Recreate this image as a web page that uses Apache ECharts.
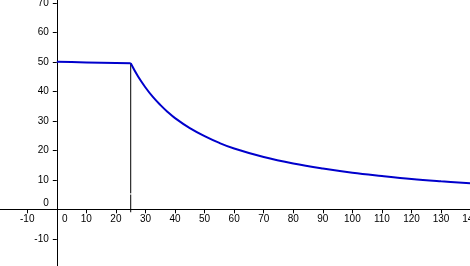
<!DOCTYPE html>
<html>
<head>
<meta charset="utf-8">
<script src="https://cdn.jsdelivr.net/npm/echarts@6/dist/echarts.min.js"></script>
<style>
html,body{margin:0;padding:0;background:#fff;}
#c{width:470px;height:266px;}
</style>
</head>
<body>
<div id="c"></div>
<script>
// Flat part of the curve
var flatX = [0, 5, 10, 15, 20, 25];
var flatY = [50, 49.9, 49.8, 49.7, 49.6, 49.5];
// Decaying part of the curve
var decayX = [25, 27.5, 30, 32.5, 35, 37.5, 40, 45, 50, 55, 60, 70, 80, 90, 100, 110, 120, 130, 140];
var decayY = [49.5, 45.0, 41.3, 38.1, 35.4, 33.0, 30.9, 27.5, 24.8, 22.5, 20.6, 17.7, 15.5, 13.8, 12.4, 11.3, 10.3, 9.5, 8.8];
// Vertical marker line at x = 25 (drawn in two pieces with a tiny gap)
var markX = 25;
var markLowY = [-1, 5.0];
var markHighY = [5.4, 49.5];
// Axis ranges and tick step
var xRange = [-20, 140];
var yRange = [-20, 80];
var tickStep = 10;
var hiddenX = [-20];
var hiddenY = [-20, 80];

var chart = echarts.init(document.getElementById('c'));
var font = 'Liberation Sans, Arial, sans-serif';

function pairs(xs, ys) { return xs.map(function (x, i) { return [x, ys[i]]; }); }

chart.setOption({
  animation: false,
  backgroundColor: '#ffffff',
  grid: { left: -2.3, right: -0.6, top: -26.7, bottom: -2.3, containLabel: false, outerBoundsMode: 'none' },
  xAxis: {
    type: 'value', min: xRange[0], max: xRange[1], interval: tickStep,
    position: 'bottom', offset: -59,
    axisLine: { onZero: false, lineStyle: { color: '#000', width: 1 } },
    axisTick: { show: true, length: 4, lineStyle: { color: '#000' } },
    splitLine: { show: false },
    axisLabel: {
      margin: 5, color: '#000', fontSize: 10, fontFamily: font,
      showMinLabel: true, showMaxLabel: true, hideOverlap: false,
      formatter: function (v) {
        if (hiddenX.indexOf(v) >= 0) return '';
        if (v === 0) return '{z|0}';
        return String(v);
      },
      rich: { z: { padding: [0, 0, 0, 16], fontSize: 10, fontFamily: font, color: '#000' } }
    }
  },
  yAxis: {
    type: 'value', min: yRange[0], max: yRange[1], interval: tickStep,
    position: 'left', offset: -59.1,
    axisLine: { onZero: false, lineStyle: { color: '#000', width: 1 } },
    axisTick: { show: true, length: 4, lineStyle: { color: '#000' } },
    splitLine: { show: false },
    axisLabel: {
      margin: 8, color: '#000', fontSize: 10, fontFamily: font,
      showMinLabel: true, showMaxLabel: true, hideOverlap: false,
      formatter: function (v) {
        if (hiddenY.indexOf(v) >= 0) return '';
        if (v === 0) return '{z|0}';
        return String(v);
      },
      rich: { z: { padding: [0, 0, 12, 0], fontSize: 10, fontFamily: font, color: '#000' } }
    }
  },
  series: [
    {
      type: 'line', data: pairs([markX, markX], markLowY), symbol: 'none',
      lineStyle: { color: '#000', width: 1 }, silent: true
    },
    {
      type: 'line', data: pairs([markX, markX], markHighY), symbol: 'none',
      lineStyle: { color: '#000', width: 1 }, silent: true
    },
    {
      type: 'line', data: pairs(flatX, flatY), symbol: 'none',
      lineStyle: { color: '#0000cc', width: 2 }
    },
    {
      type: 'line', data: pairs(decayX, decayY), symbol: 'none', smooth: 0.4,
      lineStyle: { color: '#0000cc', width: 2 }
    }
  ]
});
</script>
</body>
</html>
